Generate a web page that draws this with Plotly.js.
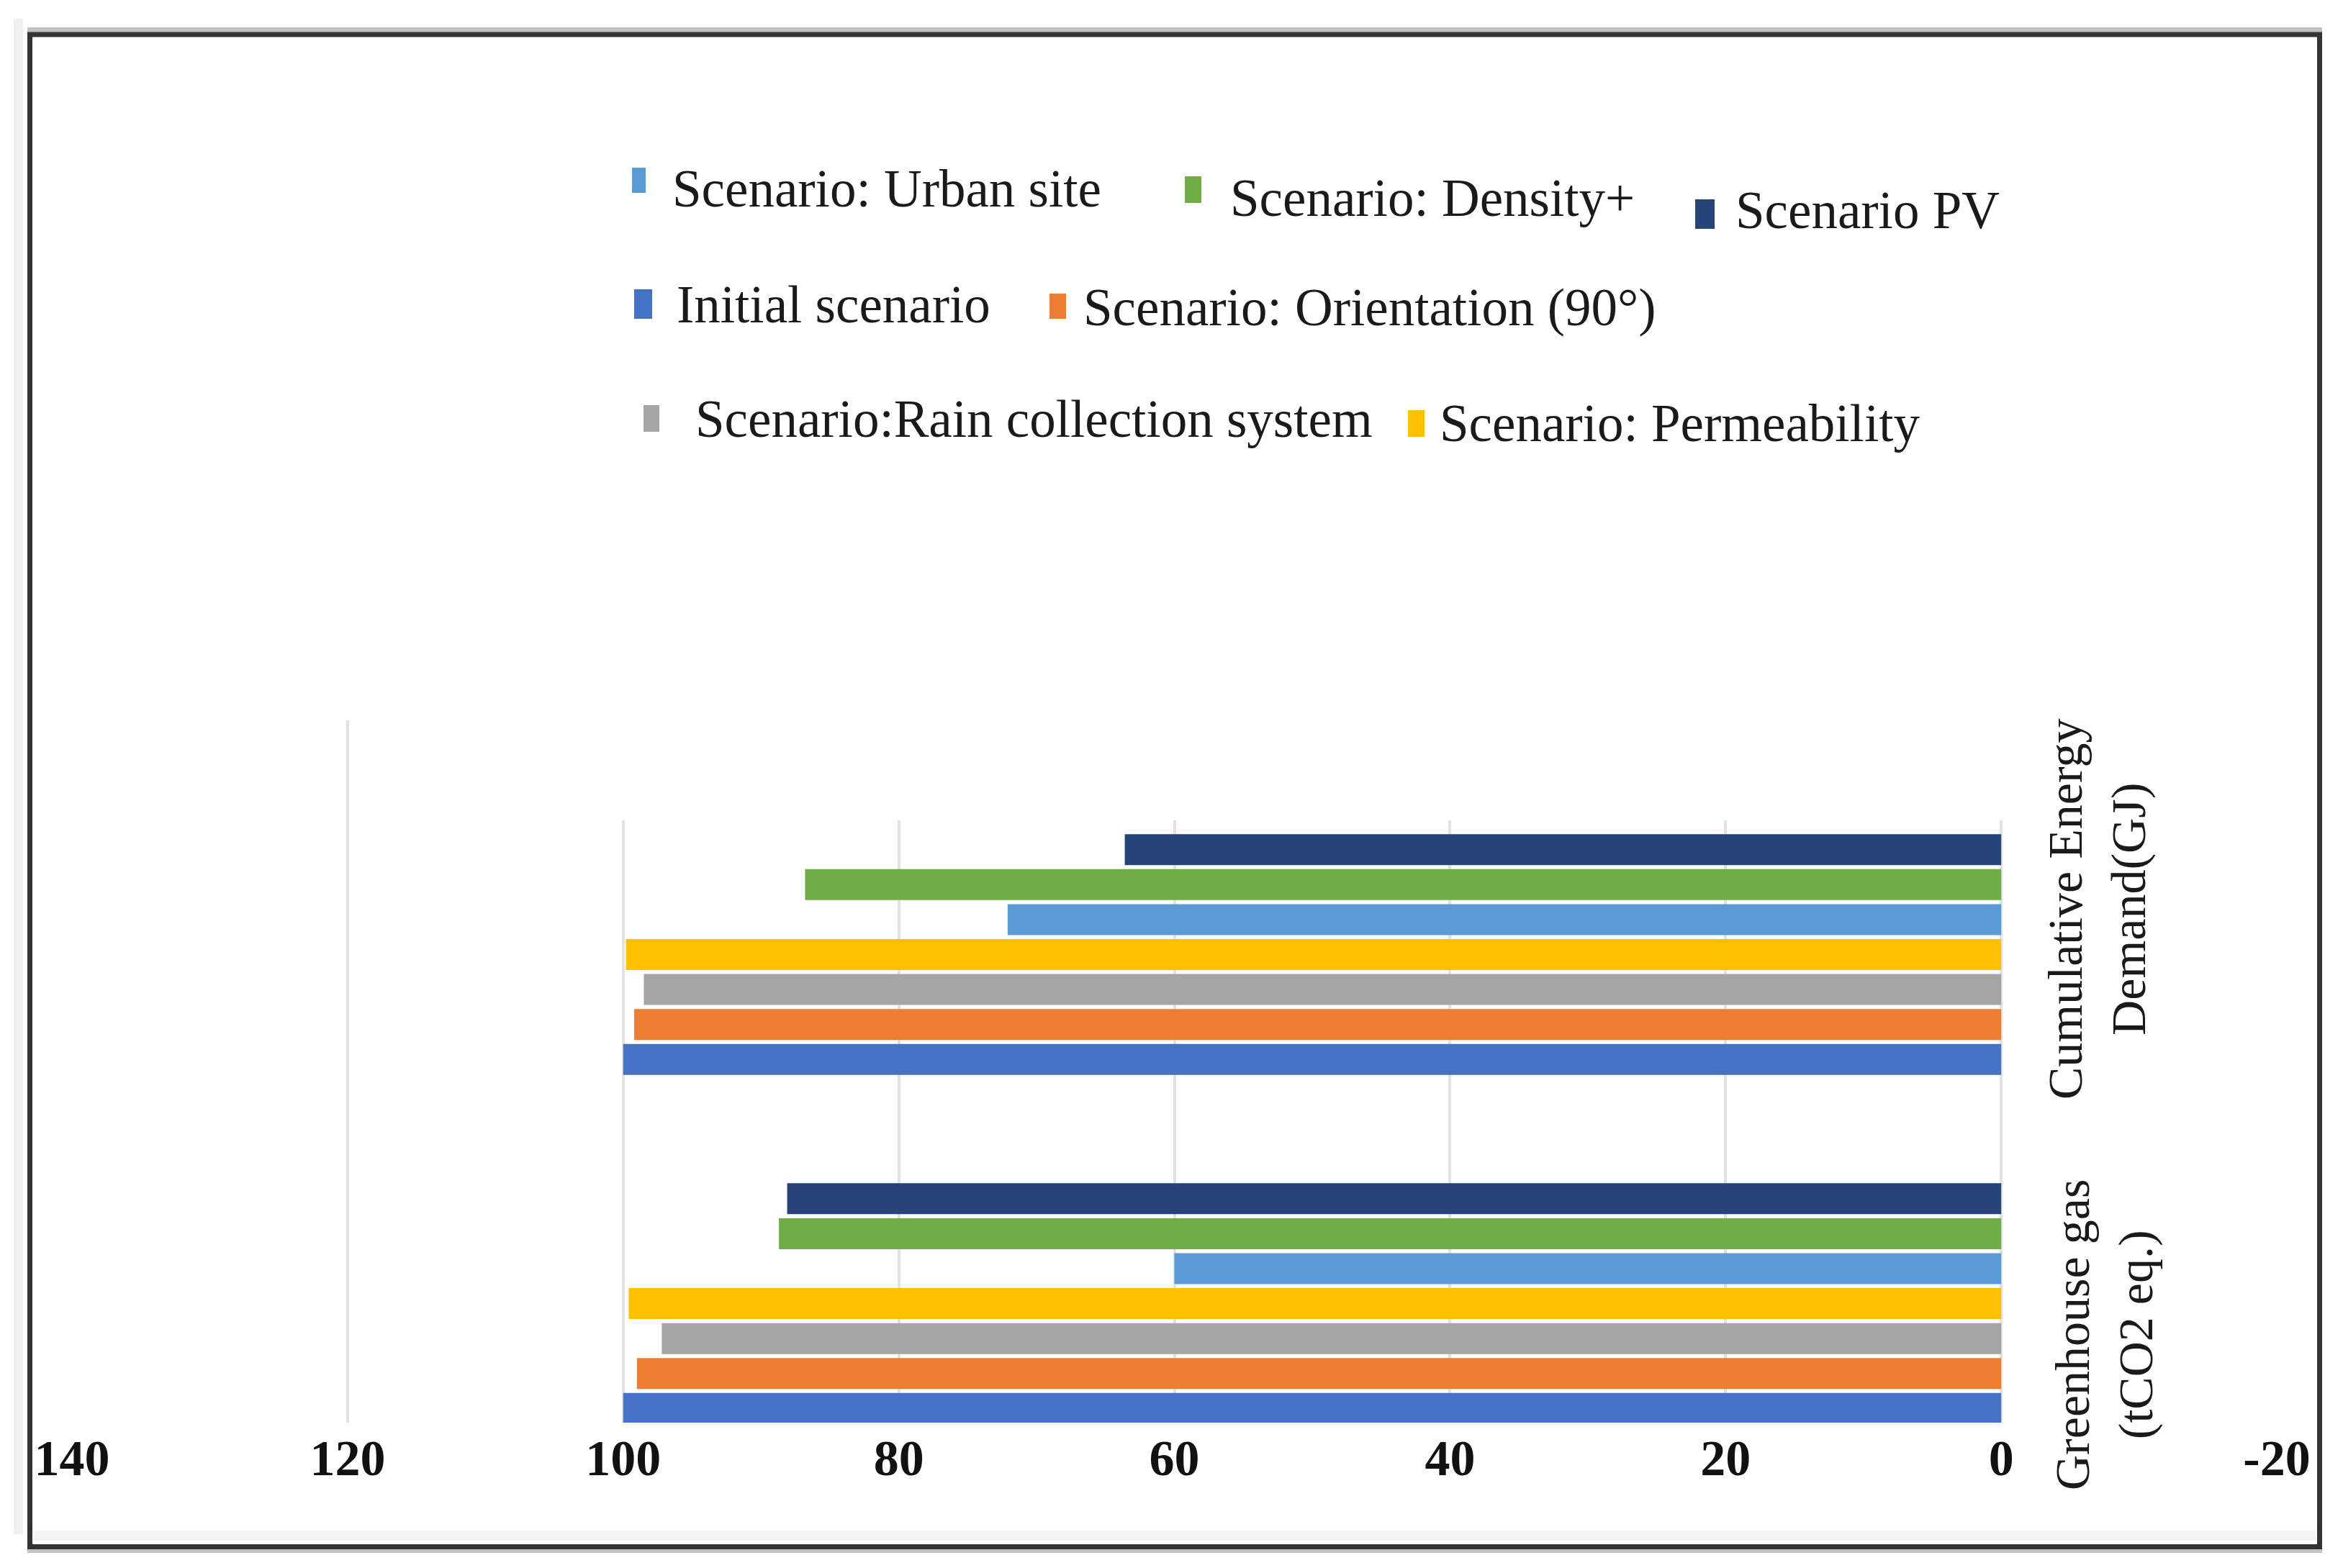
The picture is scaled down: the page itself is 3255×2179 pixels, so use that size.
<!DOCTYPE html>
<html>
<head>
<meta charset="utf-8">
<script src="https://cdn.plot.ly/plotly-3.0.1.min.js"></script>
<style>
  html, body { margin: 0; padding: 0; background: #ffffff; }
  #chart { width: 3255px; height: 2179px; }
</style>
</head>
<body>
<div id="chart"></div>
<script>
// ---------------- DATA ----------------
const categories = ['Greenhouse gas (tCO2 eq.)', 'Cumulative Energy Demand(GJ)'];
const categoryLabels = ['Greenhouse gas<br>(tCO2 eq.)', 'Cumulative Energy<br>Demand(GJ)'];

const seriesNames = [
  'Initial scenario',
  'Scenario: Orientation (90°)',
  'Scenario:Rain collection system',
  'Scenario: Permeability',
  'Scenario: Urban site',
  'Scenario: Density+',
  'Scenario PV'
];
const seriesColors = ['#4472C4', '#ED7D31', '#A5A5A5', '#FFC000', '#5B9BD5', '#70AD47', '#264478'];

// values: [Greenhouse gas, Cumulative Energy Demand]
const initialScenario   = [100.0, 100.0];
const orientation90     = [99.0, 99.2];
const rainCollection    = [97.2, 98.5];
const permeability      = [99.6, 99.8];
const urbanSite         = [60.0, 72.1];
const densityPlus       = [88.7, 86.8];
const scenarioPV        = [88.1, 63.6];
const seriesValues = [initialScenario, orientation90, rainCollection, permeability, urbanSite, densityPlus, scenarioPV];

const xTickValues = [140, 120, 100, 80, 60, 40, 20, 0, -20];
const xTickLabels = ['140', '120', '100', '80', '60', '40', '20', '0', '-20'];

// ---------------- LAYOUT HELPERS ----------------
const W = 3255, H = 2179;
const M = { l: 100, r: 92, t: 26, b: 202 };
const PW = W - M.l - M.r, PH = H - M.t - M.b;
const fx = x => (x - M.l) / PW;
const fy = y => (H - M.b - y) / PH;
const FONT = '"Liberation Serif", "Times New Roman", Times, serif';

const traces = seriesNames.map((name, i) => ({
  type: 'bar',
  orientation: 'h',
  name: name,
  y: categories,
  x: seriesValues[i],
  marker: { color: seriesColors[i], line: { width: 0 } },
  showlegend: false,
  hoverinfo: 'x+name'
}));

const shapes = [];
const annotations = [];

// white overlays (legend / label boxes covering gridlines, as in the reference)
shapes.push({ type: 'rect', xref: 'paper', yref: 'paper', x0: fx(108), x1: fx(3156), y0: fy(0), y1: fy(1001),
  fillcolor: '#ffffff', line: { width: 0 }, layer: 'above' });
shapes.push({ type: 'rect', xref: 'paper', yref: 'paper', x0: fx(496), x1: fx(3156), y0: fy(1001), y1: fy(1140),
  fillcolor: '#ffffff', line: { width: 0 }, layer: 'above' });

// faint outer band at left
shapes.push({ type: 'rect', xref: 'paper', yref: 'paper', x0: fx(19), x1: fx(32), y0: fy(26), y1: fy(2132),
  fillcolor: '#f0f0f0', line: { width: 0 }, layer: 'above' });
// light band inside frame bottom
shapes.push({ type: 'rect', xref: 'paper', yref: 'paper', x0: fx(46), x1: fx(3218), y0: fy(2127), y1: fy(2141),
  fillcolor: '#f3f3f3', line: { width: 0 }, layer: 'above' });
// frame shadow (top / bottom)
shapes.push({ type: 'rect', xref: 'paper', yref: 'paper', x0: fx(38), x1: fx(3226), y0: fy(38), y1: fy(45),
  fillcolor: '#c0c0c0', line: { width: 0 }, layer: 'above' });
shapes.push({ type: 'rect', xref: 'paper', yref: 'paper', x0: fx(38), x1: fx(3226), y0: fy(2152), y1: fy(2158),
  fillcolor: '#c4c4c4', line: { width: 0 }, layer: 'above' });
// frame
shapes.push({ type: 'rect', xref: 'paper', yref: 'paper', x0: fx(41.5), x1: fx(3222.5), y0: fy(48), y1: fy(2149.5),
  fillcolor: 'rgba(0,0,0,0)', line: { width: 7, color: '#333333' }, layer: 'above' });

// legend (manual, staggered like the reference)
const legendPlacement = {
  'Scenario: Urban site':            { m: [878, 897, 233, 268],  tx: 932,  base: 287 },
  'Scenario: Density+':              { m: [1646, 1669, 245, 282], tx: 1707, base: 300 },
  'Scenario PV':                     { m: [2355, 2382, 277, 318], tx: 2409, base: 317 },
  'Initial scenario':                { m: [881, 906, 402, 443],  tx: 938,  base: 448 },
  'Scenario: Orientation (90°)':     { m: [1458, 1481, 408, 443], tx: 1503, base: 452 },
  'Scenario:Rain collection system': { m: [894, 916, 563, 600],  tx: 964,  base: 607 },
  'Scenario: Permeability':          { m: [1956, 1979, 570, 607], tx: 1998, base: 613 }
};
const LEG_FS = 73;
seriesNames.forEach((name, i) => {
  const p = legendPlacement[name];
  shapes.push({ type: 'rect', xref: 'paper', yref: 'paper',
    x0: fx(p.m[0]), x1: fx(p.m[1]), y0: fy(p.m[2]), y1: fy(p.m[3]),
    fillcolor: seriesColors[i], line: { width: 0 }, layer: 'above' });
  annotations.push({ xref: 'paper', yref: 'paper', x: fx(p.tx), y: fy(p.base - 0.34 * LEG_FS),
    xanchor: 'left', yanchor: 'middle', showarrow: false, text: name,
    font: { family: FONT, size: LEG_FS, color: '#1a1a1a' } });
});

// category labels (rotated, to the right of the zero line)
const catLabelPos = [ { x: 2923, y: 1855 }, { x: 2913, y: 1264 } ];
categoryLabels.forEach((lab, i) => {
  annotations.push({ xref: 'paper', yref: 'paper', x: fx(catLabelPos[i].x), y: fy(catLabelPos[i].y),
    xanchor: 'center', yanchor: 'middle', showarrow: false, text: lab, textangle: -90, align: 'center',
    font: { family: FONT, size: 68, color: '#1a1a1a' } });
});

const layout = {
  width: W, height: H,
  margin: M,
  paper_bgcolor: '#ffffff',
  plot_bgcolor: '#ffffff',
  barmode: 'group',
  bargap: 0.299,
  bargroupgap: 0.115,
  showlegend: false,
  xaxis: {
    range: [140, -20],
    tickmode: 'array',
    tickvals: xTickValues,
    ticktext: xTickLabels,
    showgrid: true,
    gridcolor: '#e2e2e2',
    gridwidth: 4,
    zeroline: false,
    showline: false,
    ticks: '',
    ticklabelstandoff: 2,
    tickfont: { family: FONT, size: 70, color: '#111111', weight: 'bold' }
  },
  yaxis: {
    type: 'category',
    range: [-0.341, 3.681],
    showticklabels: false,
    showgrid: false,
    zeroline: false,
    showline: false,
    ticks: ''
  },
  shapes: shapes,
  annotations: annotations
};

Plotly.newPlot('chart', traces, layout, { displayModeBar: false, staticPlot: true });
</script>
</body>
</html>
